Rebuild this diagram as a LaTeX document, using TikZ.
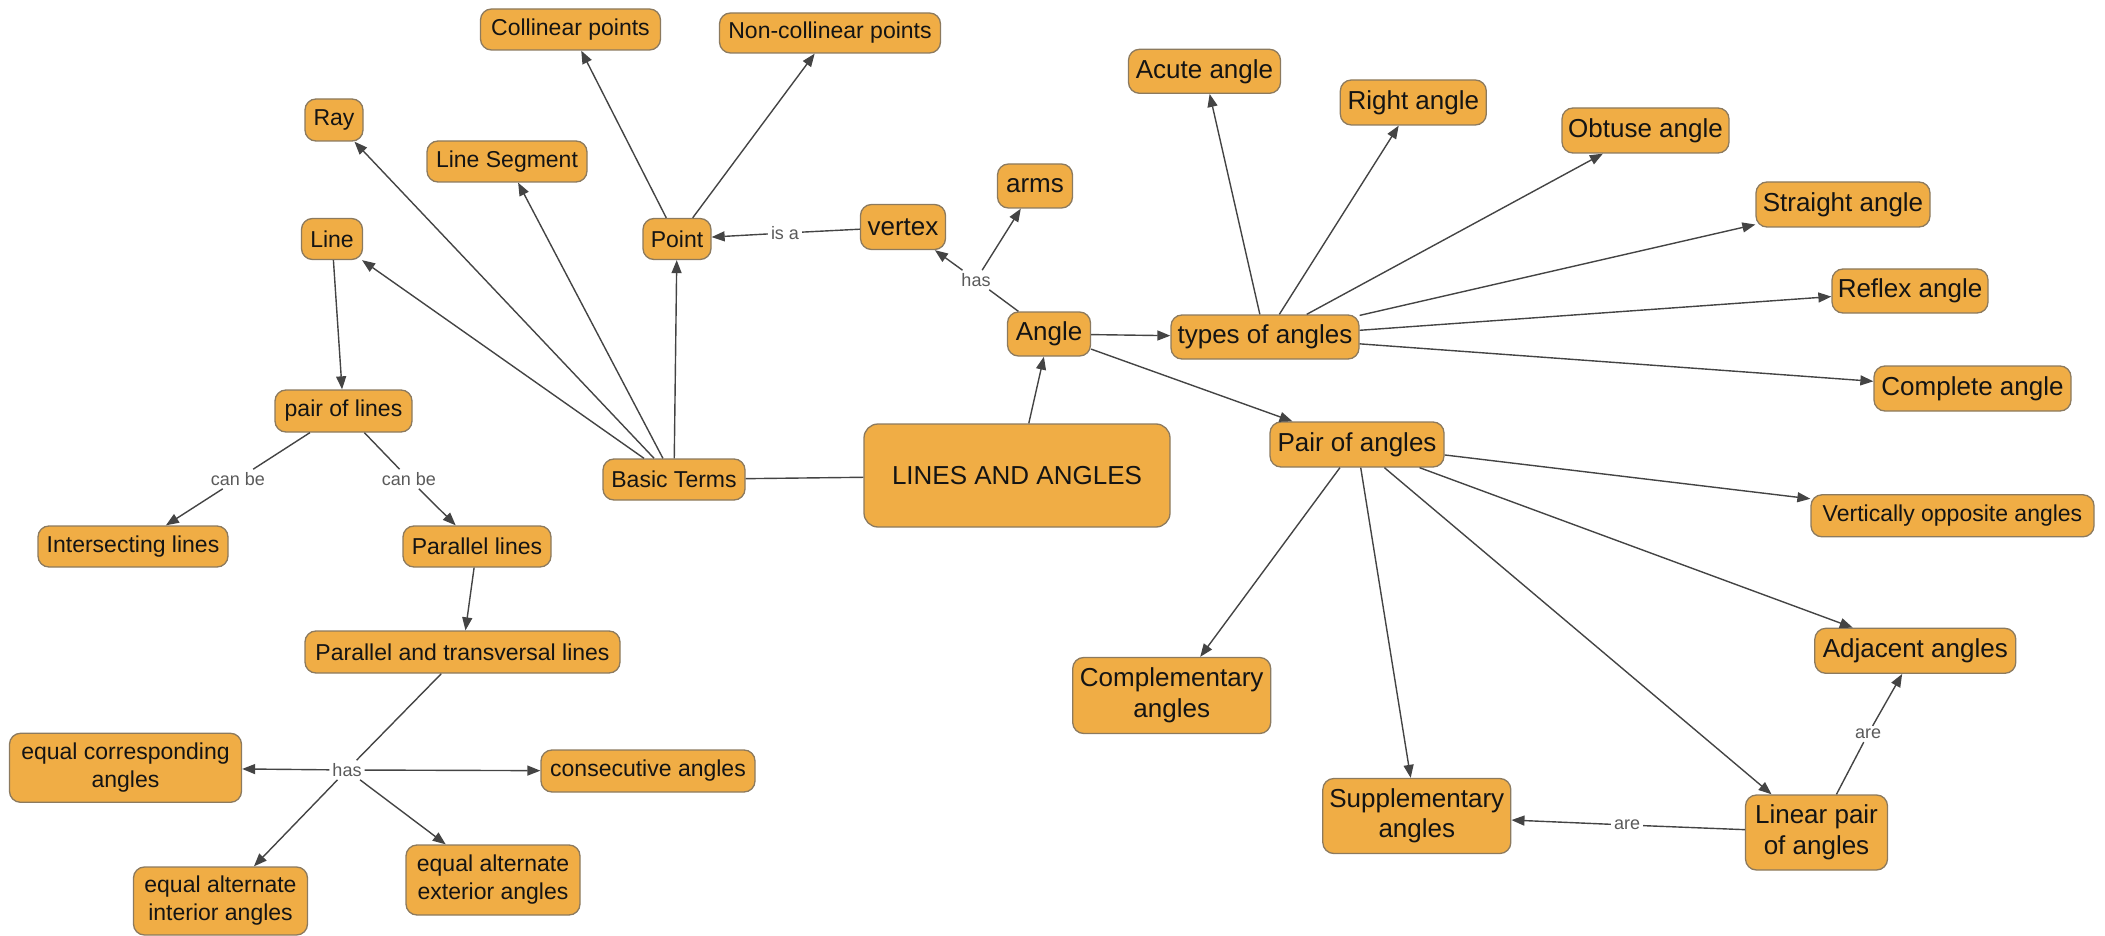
\documentclass[tikz,border=0pt]{standalone}
\usepackage{fontspec}
\setmainfont{Liberation Sans}
\usetikzlibrary{arrows.meta}
\definecolor{boxc}{HTML}{F0AD45}
\definecolor{bordc}{HTML}{8C7A5E}
\definecolor{txtc}{HTML}{141414}
\definecolor{linec}{HTML}{444444}
\definecolor{lblc}{HTML}{5A5A5A}
\tikzset{
  box/.style={draw=bordc, fill=boxc, rounded corners=11pt, line width=1.3pt, inner sep=0pt, text=txtc, align=center},
  sa/.style={font=\fontsize{23}{28}\selectfont},
  sb/.style={font=\fontsize{26}{30.5}\selectfont},
  lbl/.style={font=\fontsize{18}{20}\selectfont, text=lblc, inner sep=3pt},
  conn/.style={draw=linec, line width=1.4pt},
  arr/.style={conn, -{Triangle[length=13pt,width=10pt]}},
}
\begin{document}
\begin{tikzpicture}[x=1pt,y=-1pt]
\useasboundingbox (0,0) rectangle (2105,936);
% nodes
\node[box,sa,minimum width=180pt,minimum height=41pt] (coll) at (570.5,29.5) {Collinear points};
\node[box,sa,minimum width=221pt,minimum height=40pt] (noncoll) at (830,33) {Non-collinear points};
\node[box,sa,minimum width=58pt,minimum height=42pt] (ray) at (334,120) {Ray};
\node[box,sa,minimum width=160pt,minimum height=41pt] (lineseg) at (507,161.5) {Line Segment};
\node[box,sa,minimum width=61pt,minimum height=41pt] (line) at (332,239) {Line};
\node[box,sa,minimum width=68pt,minimum height=41pt] (point) at (677,239) {Point};
\node[box,sb,minimum width=85pt,minimum height=45pt] (vertex) at (903,227) {vertex};
\node[box,sb,minimum width=75pt,minimum height=44pt] (arms) at (1035,186) {arms};
\node[box,sb,minimum width=83pt,minimum height=44pt] (angle) at (1049,334) {Angle};
\node[box,sb,minimum width=188pt,minimum height=44pt] (types) at (1265,337) {types of angles};
\node[box,sb,minimum width=152pt,minimum height=44pt] (acute) at (1204.5,71.3) {Acute angle};
\node[box,sb,minimum width=146pt,minimum height=45pt] (right) at (1413.3,102.5) {Right angle};
\node[box,sb,minimum width=167pt,minimum height=45pt] (obtuse) at (1645.5,130.5) {Obtuse angle};
\node[box,sb,minimum width=174pt,minimum height=45pt] (straight) at (1843,204.5) {Straight angle};
\node[box,sb,minimum width=156pt,minimum height=44pt] (reflex) at (1910,291) {Reflex angle};
\node[box,sb,minimum width=197pt,minimum height=45pt] (complete) at (1972.5,388.5) {Complete angle};
\node[box,sb,minimum width=174pt,minimum height=45pt] (pairang) at (1357,444.5) {Pair of angles};
\node[box,sb,rounded corners=14pt,minimum width=306pt,minimum height=103pt] (main) at (1017,475.5) {LINES AND ANGLES};
\node[box,sa,minimum width=142pt,minimum height=41pt] (basic) at (674,479.5) {Basic Terms};
\node[box,sa,minimum width=137pt,minimum height=42pt] (pairlines) at (343.5,411) {pair of lines};
\node[box,sa,minimum width=190pt,minimum height=41pt] (inter) at (133,546.5) {Intersecting lines};
\node[box,sa,minimum width=148pt,minimum height=41pt] (parallel) at (477,546.5) {Parallel lines};
\node[box,sa,minimum width=315pt,minimum height=42pt] (pt) at (462.5,652) {Parallel and transversal lines};
\node[box,sa,minimum width=232pt,minimum height=69pt] (eqcorr) at (125.5,767.8) {equal corresponding\\angles};
\node[box,sa,minimum width=214pt,minimum height=42pt] (consec) at (648,771) {consecutive angles};
\node[box,sa,minimum width=174pt,minimum height=68pt] (altint) at (220.5,901) {equal alternate\\interior angles};
\node[box,sa,minimum width=174pt,minimum height=70pt] (altext) at (493,880) {equal alternate\\exterior angles};
\node[box,sa,minimum width=283pt,minimum height=42pt] (vert) at (1952.5,515.8) {Vertically opposite angles};
\node[box,sb,minimum width=201pt,minimum height=45pt] (adj) at (1915.3,650.8) {Adjacent angles};
\node[box,sb,minimum width=198pt,minimum height=76pt] (compl) at (1171.7,695.5) {Complementary\\angles};
\node[box,sb,minimum width=188pt,minimum height=75pt] (suppl) at (1416.8,816) {Supplementary\\angles};
\node[box,sb,minimum width=142pt,minimum height=75pt] (linear) at (1816.5,832.5) {Linear pair\\of angles};
% link labels
\node[lbl] (isa) at (785,233) {is a};
\node[lbl] (hasA) at (976,280) {has};
\node[lbl] (canA) at (238,479) {can be};
\node[lbl] (canB) at (409,479) {can be};
\node[lbl] (hasB) at (347,770) {has};
\node[lbl] (areA) at (1627,825) {are};
\node[lbl] (areB) at (1868,734) {are};
% connectors
\draw[conn] (main) -- (basic);
\draw[arr] (main) -- (angle);
\draw[arr] (basic) -- (ray);
\draw[arr] (basic) -- (lineseg);
\draw[arr] (basic) -- (line);
\draw[arr] (basic) -- (point);
\draw[arr] (point) -- (coll);
\draw[arr] (point) -- (noncoll);
\draw[conn] (vertex) -- (isa);
\draw[arr] (isa) -- (point);
\draw[conn] (angle) -- (hasA);
\draw[arr] (hasA) -- (vertex);
\draw[arr] (hasA) -- (arms);
\draw[arr] (line) -- (pairlines);
\draw[conn] (pairlines) -- (canA);
\draw[arr] (canA) -- (inter);
\draw[conn] (pairlines) -- (canB);
\draw[arr] (canB) -- (parallel);
\draw[arr] (parallel) -- (pt);
\draw[conn] (pt) -- (hasB);
\draw[arr] (hasB) -- (eqcorr);
\draw[arr] (hasB) -- (consec);
\draw[arr] (hasB) -- (altint);
\draw[arr] (hasB) -- (altext);
\draw[arr] (angle) -- (types);
\draw[arr] (angle) -- (pairang);
\draw[arr] (types) -- (acute);
\draw[arr] (types) -- (right);
\draw[arr] (types) -- (obtuse);
\draw[arr] (types) -- (straight);
\draw[arr] (types) -- (reflex);
\draw[arr] (types) -- (complete);
\draw[arr] (pairang) -- (vert);
\draw[arr] (pairang) -- (adj);
\draw[arr] (pairang) -- (compl);
\draw[arr] (pairang) -- (suppl);
\draw[arr] (pairang) -- (linear);
\draw[conn] (linear) -- (areA);
\draw[arr] (areA) -- (suppl);
\draw[conn] (linear) -- (areB);
\draw[arr] (areB) -- (adj);
\end{tikzpicture}
\end{document}
